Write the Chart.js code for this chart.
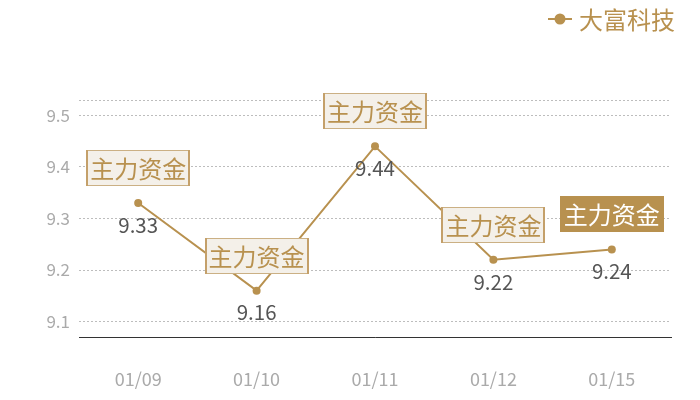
<!DOCTYPE html>
<html>
<head>
<meta charset="utf-8">
<script src="https://cdn.jsdelivr.net/npm/chart.js@4/dist/chart.umd.min.js"></script>
<style>
  html, body { margin: 0; padding: 0; background: #fff; }
  #wrap { width: 700px; height: 400px; }
</style>
</head>
<body>
<div id="wrap"><canvas id="myChart" width="700" height="400"></canvas></div>
<script>
var fechas = ['01/09', '01/10', '01/11', '01/12', '01/15'];
var precios = [9.33, 9.16, 9.44, 9.22, 9.24];
var etiquetas = ['主力资金', '主力资金', '主力资金', '主力资金', '主力资金'];
var resaltado = [false, false, false, false, true];
var marcasY = [9.1, 9.2, 9.3, 9.4, 9.5];
var yMin = 9.07, yMax = 9.53;
var serie = '大富科技';

var dorado = '#b8914f';
var fuente = '"Noto Sans CJK SC", "Noto Sans", sans-serif';

// cajas "主力资金" y valores debajo de cada punto
var marcas = {
  id: 'marcas',
  afterDatasetsDraw: function(chart) {
    var ctx = chart.ctx;
    var meta = chart.getDatasetMeta(0);
    ctx.save();
    meta.data.forEach(function(p, i) {
      // valor
      ctx.font = '20.5px ' + fuente;
      ctx.fillStyle = '#555';
      ctx.textAlign = 'center';
      ctx.textBaseline = 'middle';
      ctx.fillText(precios[i].toFixed(2), p.x, p.y + 22);

      // caja
      ctx.font = '24px ' + fuente;
      var w = ctx.measureText(etiquetas[i]).width + 8;
      var h = 36;
      var bx = Math.round(p.x - w / 2), by = Math.round(p.y - 35 - h / 2);
      if (resaltado[i]) {
        ctx.fillStyle = dorado;
        ctx.fillRect(bx, by, w, h);
        ctx.fillStyle = '#fff';
      } else {
        ctx.fillStyle = '#f4f0e9';
        ctx.fillRect(bx, by, w, h);
        ctx.strokeStyle = '#cbb084';
        ctx.lineWidth = 1;
        ctx.strokeRect(bx + 0.5, by + 0.5, w - 1, h - 1);
        ctx.fillStyle = '#c4a06a';
        ctx.fillRect(bx, by, 2, h);
        ctx.fillRect(bx + w - 2, by, 2, h);
        ctx.fillStyle = dorado;
      }
      ctx.fillText(etiquetas[i], p.x, by + h / 2 + 1);
    });
    ctx.restore();
  }
};

// leyenda arriba a la derecha
var leyenda = {
  id: 'leyenda',
  afterDraw: function(chart) {
    var ctx = chart.ctx;
    ctx.save();
    ctx.font = '24px ' + fuente;
    ctx.textBaseline = 'middle';
    ctx.textAlign = 'left';
    var tw = ctx.measureText(serie).width;
    var tx = 675 - tw, ty = 19;
    ctx.strokeStyle = dorado;
    ctx.lineWidth = 2;
    ctx.beginPath();
    ctx.moveTo(tx - 31, ty);
    ctx.lineTo(tx - 7, ty);
    ctx.stroke();
    ctx.fillStyle = dorado;
    ctx.beginPath();
    ctx.arc(tx - 19, ty, 5.5, 0, Math.PI * 2);
    ctx.fill();
    ctx.fillText(serie, tx, ty + 1);
    ctx.restore();
  }
};

var ctx = document.getElementById('myChart').getContext('2d');
var myChart = new Chart(ctx, {
  type: 'line',
  data: {
    labels: fechas,
    datasets: [{
      label: serie,
      data: precios,
      borderColor: dorado,
      backgroundColor: dorado,
      borderWidth: 2,
      pointRadius: 4,
      pointHoverRadius: 4,
      pointBackgroundColor: dorado,
      pointBorderWidth: 0,
      tension: 0
    }]
  },
  options: {
    responsive: false,
    animation: false,
    layout: { padding: { top: 100, right: 29, left: 0, bottom: 0 } },
    plugins: {
      legend: { display: false },
      tooltip: { enabled: false }
    },
    scales: {
      x: {
        offset: true,
        grid: { display: false },
        border: { display: true, color: '#333', width: 1 },
        ticks: {
          color: '#aaa',
          font: { family: fuente, size: 18 },
          padding: 23
        },
        afterFit: function(s) { s.height = 63; }
      },
      y: {
        min: yMin,
        max: yMax,
        border: { display: false, dash: [2, 2] },
        grid: {
          color: '#bdbdbd',
          drawTicks: false
        },
        afterBuildTicks: function(s) {
          s.ticks = [yMin].concat(marcasY, [yMax]).map(function(v) { return { value: v }; });
        },
        ticks: {
          color: '#aaa',
          font: { family: fuente, size: 17 },
          padding: 9,
          callback: function(v) {
            return marcasY.indexOf(v) >= 0 ? v.toFixed(1) : '';
          }
        },
        afterFit: function(s) { s.width = 79; }
      }
    }
  },
  plugins: [marcas, leyenda]
});
</script>
</body>
</html>
